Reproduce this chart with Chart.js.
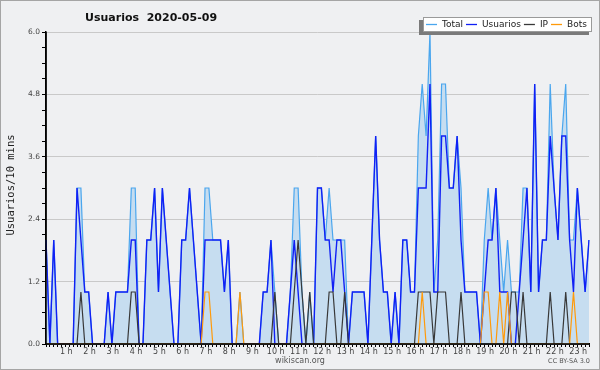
<!DOCTYPE html>
<html>
<head>
<meta charset="utf-8">
<script src="https://cdn.jsdelivr.net/npm/chart.js@4.4.0/dist/chart.umd.min.js"></script>
<style>
  html, body { margin: 0; padding: 0; background: #eff0f2; }
  canvas { display: block; }
</style>
</head>
<body>
<canvas id="chart" width="600" height="370"></canvas>
<script>
// one value every 10 minutes, 00:00 -> 23:20
const hourLabels = ['1 h', '2 h', '3 h', '4 h', '5 h', '6 h', '7 h', '8 h', '9 h', '10 h', '11 h', '12 h',
    '13 h', '14 h', '15 h', '16 h', '17 h', '18 h', '19 h', '20 h', '21 h', '22 h', '23 h'];
const yTicks = [0, 1.2, 2.4, 3.6, 4.8, 6.0];

const total = [
    2, 0, 2, 0, 0, 0,  0, 0, 3, 3, 1, 1,  0, 0, 0, 0, 1, 0,  1, 1, 1, 1, 3, 3,
    0, 0, 2, 2, 3, 1,  3, 2, 1, 0, 0, 2,  2, 3, 2, 1, 0, 3,  3, 2, 2, 2, 1, 2,
    0, 0, 1, 0, 0, 0,  0, 0, 1, 1, 2, 1,  0, 0, 0, 1, 3, 3,  1, 0, 1, 0, 3, 3,
    2, 3, 2, 2, 2, 2,  0, 1, 1, 1, 1, 0,  2, 4, 2, 1, 1, 0,  1, 0, 2, 2, 1, 1,
    4, 5, 4, 6, 1, 2,  5, 5, 3, 3, 4, 3,  1, 1, 1, 1, 0, 2,  3, 2, 3, 2, 1, 2,
    1, 1, 1, 3, 3, 1,  5, 1, 2, 2, 5, 3,  2, 4, 5, 2, 2, 3,  2, 1, 2
];
const usuarios = [
    2, 0, 2, 0, 0, 0,  0, 0, 3, 2, 1, 1,  0, 0, 0, 0, 1, 0,  1, 1, 1, 1, 2, 2,
    0, 0, 2, 2, 3, 1,  3, 2, 1, 0, 0, 2,  2, 3, 2, 1, 0, 2,  2, 2, 2, 2, 1, 2,
    0, 0, 0, 0, 0, 0,  0, 0, 1, 1, 2, 0,  0, 0, 0, 1, 2, 1,  0, 0, 0, 0, 3, 3,
    2, 2, 1, 2, 2, 1,  0, 1, 1, 1, 1, 0,  2, 4, 2, 1, 1, 0,  1, 0, 2, 2, 1, 1,
    3, 3, 3, 5, 1, 1,  4, 4, 3, 3, 4, 2,  1, 1, 1, 1, 0, 1,  2, 2, 3, 1, 1, 1,
    0, 0, 1, 2, 3, 1,  5, 1, 2, 2, 4, 3,  2, 4, 4, 2, 1, 3,  2, 1, 2
];
const ip = [
    0, 0, 0, 0, 0, 0,  0, 0, 0, 1, 0, 0,  0, 0, 0, 0, 0, 0,  0, 0, 0, 0, 1, 1,
    0, 0, 0, 0, 0, 0,  0, 0, 0, 0, 0, 0,  0, 0, 0, 0, 0, 0,  0, 0, 0, 0, 0, 0,
    0, 0, 0, 0, 0, 0,  0, 0, 0, 0, 0, 1,  0, 0, 0, 0, 1, 2,  1, 0, 1, 0, 0, 0,
    0, 1, 1, 0, 0, 1,  0, 0, 0, 0, 0, 0,  0, 0, 0, 0, 0, 0,  0, 0, 0, 0, 0, 0,
    1, 1, 1, 1, 0, 1,  1, 1, 0, 0, 0, 1,  0, 0, 0, 0, 0, 0,  0, 0, 0, 0, 0, 0,
    1, 1, 0, 1, 0, 0,  0, 0, 0, 0, 1, 0,  0, 0, 1, 0, 0, 0,  0, 0, 0
];
const bots = [
    0, 0, 0, 0, 0, 0,  0, 0, 0, 0, 0, 0,  0, 0, 0, 0, 0, 0,  0, 0, 0, 0, 0, 0,
    0, 0, 0, 0, 0, 0,  0, 0, 0, 0, 0, 0,  0, 0, 0, 0, 0, 1,  1, 0, 0, 0, 0, 0,
    0, 0, 1, 0, 0, 0,  0, 0, 0, 0, 0, 0,  0, 0, 0, 0, 0, 0,  0, 0, 0, 0, 0, 0,
    0, 0, 0, 0, 0, 0,  0, 0, 0, 0, 0, 0,  0, 0, 0, 0, 0, 0,  0, 0, 0, 0, 0, 0,
    0, 1, 0, 0, 0, 0,  0, 0, 0, 0, 0, 0,  0, 0, 0, 0, 0, 1,  1, 0, 0, 1, 0, 1,
    0, 0, 0, 0, 0, 0,  0, 0, 0, 0, 0, 0,  0, 0, 0, 0, 1, 0,  0, 0, 0
];

const colors = {
    bg: '#eff0f2',
    total: '#4aa6ee',
    fill: '#c6ddf0',
    usuarios: '#1020f5',
    ip: '#383838',
    bots: '#ff9a0a',
    grid: '#c9c9c9'
};

const times = total.map((_, i) => {
    const m = i * 10;
    return String(Math.floor(m / 60)).padStart(2, '0') + ':' + String(m % 60).padStart(2, '0');
});

const isMajor = v => yTicks.some(t => Math.abs(t - v) < 1e-6);

const decorations = {
    id: 'decorations',
    beforeDraw(chart) {
        const ctx = chart.ctx;
        ctx.save();
        ctx.fillStyle = colors.bg;
        ctx.fillRect(0, 0, chart.width, chart.height);
        ctx.restore();
    },
    afterDatasetsDraw(chart) {
        const { ctx, chartArea: a } = chart;
        ctx.save();
        ctx.strokeStyle = '#000';
        ctx.lineWidth = 1.5;
        ctx.beginPath();
        ctx.moveTo(a.left, a.top);
        ctx.lineTo(a.left, a.bottom);
        ctx.lineTo(a.right + 1, a.bottom);
        ctx.stroke();
        ctx.restore();
    },
    afterDraw(chart) {
        const ctx = chart.ctx;
        ctx.save();
        // frame
        ctx.strokeStyle = '#a5a5a5';
        ctx.lineWidth = 1;
        ctx.strokeRect(0.5, 0.5, chart.width - 1, chart.height - 1);

        // title
        ctx.fillStyle = '#111';
        ctx.font = 'bold 11px "DejaVu Sans"';
        ctx.textBaseline = 'alphabetic';
        ctx.textAlign = 'left';
        ctx.fillText('Usuarios  2020-05-09', 85, 21);

        // y title
        ctx.save();
        ctx.translate(11, 185);
        ctx.rotate(-Math.PI / 2);
        ctx.textAlign = 'center';
        ctx.textBaseline = 'middle';
        ctx.font = '10.5px "DejaVu Sans Mono"';
        ctx.fillStyle = '#222';
        ctx.fillText('Usuarios/10 mins', 0, 0);
        ctx.restore();

        // footer
        ctx.fillStyle = '#555';
        ctx.font = '8px "DejaVu Sans"';
        ctx.textAlign = 'center';
        ctx.textBaseline = 'middle';
        ctx.fillText('wikiscan.org', 300, 361);
        ctx.font = '6.5px "DejaVu Sans"';
        ctx.textAlign = 'right';
        ctx.fillText('CC BY-SA 3.0', 590, 361);

        // legend box with shadow
        ctx.fillStyle = '#7a7a7a';
        ctx.fillRect(419, 20, 170, 15);
        ctx.fillStyle = '#fff';
        ctx.fillRect(423, 17, 169, 15);
        ctx.strokeStyle = '#9a9a9a';
        ctx.strokeRect(423.5, 17.5, 168, 14);

        ctx.font = '9px "DejaVu Sans"';
        ctx.textAlign = 'left';
        ctx.textBaseline = 'middle';
        let x = 426;
        chart.data.datasets.forEach(ds => {
            ctx.strokeStyle = ds.borderColor;
            ctx.lineWidth = 1.3;
            ctx.beginPath();
            ctx.moveTo(x, 24.5);
            ctx.lineTo(x + 11, 24.5);
            ctx.stroke();
            ctx.fillStyle = '#222';
            ctx.fillText(ds.label, x + 16, 24.5);
            x += 16 + ctx.measureText(ds.label).width + 3;
        });
        ctx.restore();
    }
};

new Chart(document.getElementById('chart'), {
    type: 'line',
    data: {
        labels: times,
        datasets: [
            { label: 'Total', data: total, borderColor: colors.total, backgroundColor: colors.fill,
              fill: 'origin', borderWidth: 1.2, order: 3 },
            { label: 'Usuarios', data: usuarios, borderColor: colors.usuarios, borderWidth: 1.4,
              fill: false, order: 2 },
            { label: 'IP', data: ip, borderColor: colors.ip, borderWidth: 1.2, fill: false, order: 1 },
            { label: 'Bots', data: bots, borderColor: colors.bots, borderWidth: 1.2, fill: false, order: 0 }
        ]
    },
    options: {
        responsive: false,
        animation: false,
        layout: { padding: { top: 32, right: 11, left: 0, bottom: 0 } },
        elements: { point: { radius: 0 }, line: { tension: 0 } },
        plugins: { legend: { display: false }, tooltip: { enabled: false } },
        scales: {
            x: {
                grid: { drawOnChartArea: false, drawTicks: true, tickLength: 3, tickColor: '#000' },
                border: { color: '#000', width: 1.5 },
                ticks: {
                    autoSkip: false, maxRotation: 0, padding: 0, color: '#444', labelOffset: -3,
                    font: { family: 'DejaVu Sans', size: 8 },
                    callback: (v, i) => (i > 0 && i % 6 === 0) ? hourLabels[i / 6 - 1] : ''
                },
                afterFit: s => { s.height = 26; }
            },
            y: {
                min: 0, max: 6,
                grid: {
                    color: c => isMajor(c.tick.value) ? colors.grid : 'rgba(0,0,0,0)',
                    tickColor: '#000', tickLength: 4, drawTicks: true
                },
                border: { color: '#000', width: 1.5 },
                ticks: {
                    stepSize: 0.3, autoSkip: false, padding: 2, color: '#444',
                    font: { family: 'DejaVu Sans', size: 7.5 },
                    callback: v => isMajor(v) ? v.toFixed(1) : ''
                },
                afterFit: s => { s.width = 46; }
            }
        }
    },
    plugins: [decorations]
});
</script>
</body>
</html>
